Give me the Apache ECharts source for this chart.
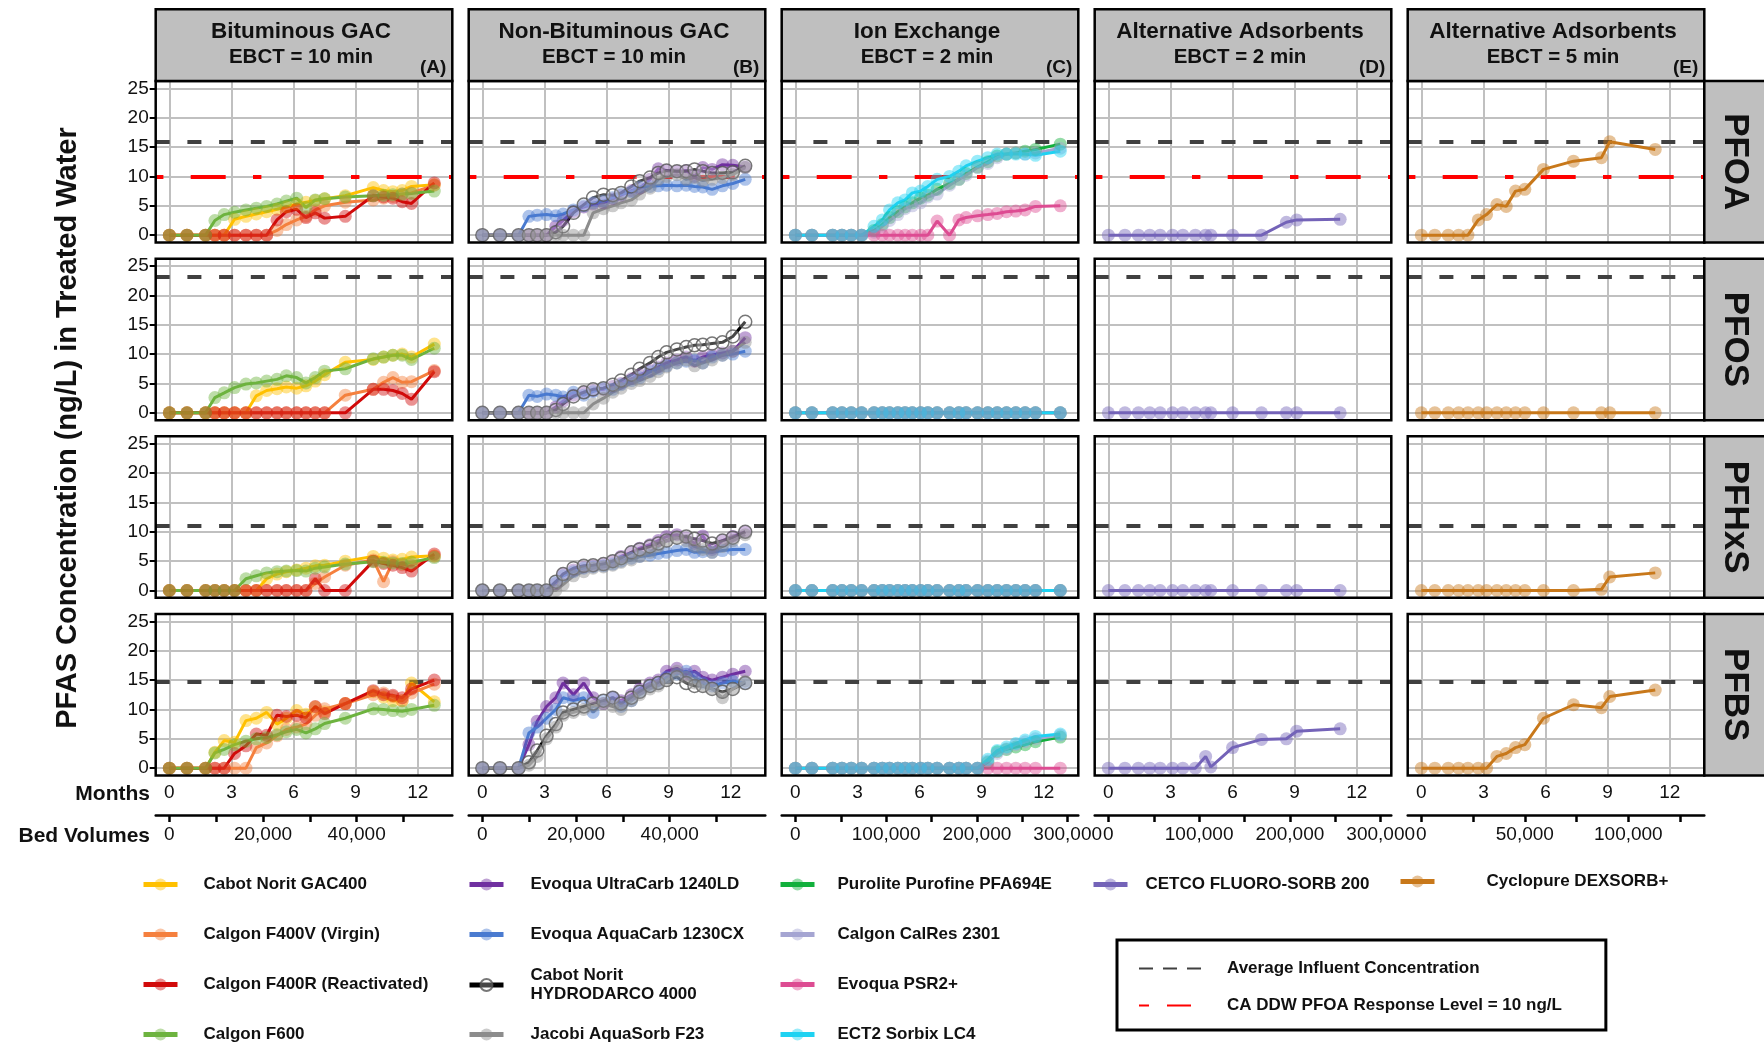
<!DOCTYPE html>
<html><head><meta charset="utf-8">
<script src="https://cdn.jsdelivr.net/npm/echarts@6/dist/echarts.min.js"></script>
<style>html,body{margin:0;padding:0;background:#fff}#c{width:1764px;height:1047px}</style>
</head><body><div id="c"></div>
<script>
// ================= DATA =================
const analytes = ['PFOA', 'PFOS', 'PFHxS', 'PFBS'];
const panelTitles = ['Bituminous GAC', 'Non-Bituminous GAC', 'Ion Exchange', 'Alternative Adsorbents', 'Alternative Adsorbents'];
const panelEBCT = ['EBCT = 10 min', 'EBCT = 10 min', 'EBCT = 2 min', 'EBCT = 2 min', 'EBCT = 5 min'];
const panelTags = ['(A)', '(B)', '(C)', '(D)', '(E)'];
const influentAvg = [15.9, 23.1, 11.1, 14.8];   // ng/L, per analyte row
const responseLevel = 10;                        // CA DDW PFOA response level
const monthTicks = [0, 3, 6, 9, 12];
const concTicks = [0, 5, 10, 15, 20, 25];
const bvPerMonth = [4420, 4420, 22800, 22800, 10000];
const bvTicksA = [0, 10000, 20000, 30000, 40000, 50000];
const bvLabelsA = [0, 20000, 40000];
const bvTicksC = [0, 50000, 100000, 150000, 200000, 250000, 300000];
const bvLabelsC = [0, 100000, 200000, 300000];
const bvTicksE = [0, 25000, 50000, 75000, 100000, 125000];
const bvLabelsE = [0, 50000, 100000];

// sampling times (months) per panel column
const monthsA = [0,0.85,1.75,2.2,2.65,3.15,3.7,4.2,4.7,5.2,5.65,6.15,6.6,7.05,7.5,8.5,9.85,10.35,10.8,11.25,11.7,12.8];
const monthsB = [0,0.85,1.75,2.25,2.65,3.1,3.55,3.9,4.4,4.9,5.35,5.85,6.3,6.7,7.2,7.6,8.1,8.5,8.9,9.4,9.85,10.25,10.65,11.1,11.6,12.1,12.7];
const monthsC = [0,0.8,1.8,2.25,2.7,3.2,3.8,4.2,4.55,4.95,5.3,5.65,6.05,6.4,6.85,7.45,7.9,8.25,8.8,9.3,9.75,10.2,10.65,11.1,11.6,12.8];
const monthsD = [0,0.8,1.45,2.0,2.5,3.1,3.6,4.2,4.7,4.95,6.0,7.4,8.6,9.1,11.2];
const monthsE = [0,0.65,1.3,1.8,2.25,2.75,3.15,3.65,4.1,4.55,5.0,5.9,7.35,8.7,9.1,11.3];

// (A) Bituminous GAC
const gac400PFOA  = [0,0,0,0,0,2.7,3.2,3.6,4.0,4.4,4.8,5.3,5.6,5.9,6.2,6.7,8.1,7.6,7.4,7.6,8.3,8.6];
const gac400PFOS  = [0,0,0,0,0,0,0,2.9,3.8,4.1,4.4,4.2,4.6,5.4,6.5,8.6,9.1,9.5,9.8,10.0,9.5,11.7];
const gac400PFHxS = [0,0,0,0,0,0,0,0,2.0,2.8,3.2,3.5,3.8,4.2,4.3,5.0,5.8,5.5,5.2,5.3,5.7,5.9];
const gac400PFBS  = [0,0,0,2.7,4.7,4.4,8.1,8.5,9.5,7.5,8.5,9.8,9.2,10.4,9.6,11.0,13.0,12.1,11.5,11.5,14.5,11.3];
const f400vPFOA   = [0,0,0,0,0,0,0,0,0,0.8,1.8,2.6,3.2,4.3,5.0,5.6,6.0,6.3,6.6,7.0,7.2,8.5];
const f400vPFOS   = [0,0,0,0,0,0,0,0,0,0,0,0,0,0,0,3.0,4.0,5.2,6.0,5.2,5.3,7.2];
const f400vPFHxS  = [0,0,0,0,0,0,0,0,0,0,0,0,0,1.2,2.3,4.3,5.2,1.5,4.9,4.4,4.3,5.8];
const f400vPFBS   = [0,0,0,0,0,0,0,3.5,4.3,5.5,6.6,7.0,7.5,9.0,10.1,11.0,12.5,12.8,12.2,11.5,12.8,14.3];
const f400rPFOA   = [0,0,0,0,0,0,0,0,0,2.6,4.0,4.4,3.0,3.8,2.9,3.2,6.7,6.5,6.3,5.7,5.4,8.9];
const f400rPFOS   = [0,0,0,0,0,0,0,0,0,0,0,0,0,0,0,0,4.0,4.0,3.8,3.3,2.3,7.0];
const f400rPFHxS  = [0,0,0,0,0,0,0,0,0,0,0,0,0,2.0,0,0,5.0,4.6,4.3,3.9,3.3,6.2];
const f400rPFBS   = [0,0,0,0,0,2.5,3.8,5.8,5.6,9.0,8.8,9.0,8.6,10.5,9.3,11.0,13.2,12.5,12.4,12.0,13.5,15.0];
const f600PFOA    = [0,0,0,2.5,3.5,3.9,4.3,4.6,4.9,5.3,5.8,6.3,4.7,6.0,6.2,6.5,6.7,6.8,6.9,7.0,7.1,7.5];
const f600PFOS    = [0,0,0,2.6,3.4,4.3,4.9,5.1,5.4,5.7,6.3,6.0,5.1,6.0,7.1,7.5,9.2,9.5,9.8,9.8,9.1,11.0];
const f600PFHxS   = [0,0,0,0,0,0,2.0,2.5,3.0,3.2,3.3,3.4,3.3,3.8,4.0,4.5,4.9,4.8,4.7,4.6,4.8,5.6];
const f600PFBS    = [0,0,0,2.6,3.2,4.0,4.6,5.0,5.2,5.7,6.2,6.6,6.0,6.7,7.6,8.5,10.1,10.0,9.8,9.7,10.0,10.7];

// (B) Non-Bituminous GAC
const ultraPFOA   = [0,0,0,0,0,0,1.5,2.5,4.0,4.8,5.3,5.5,6.2,6.8,7.6,8.0,9.5,11.3,11.0,10.9,11.0,10.0,11.5,11.2,12.0,11.9,11.6];
const ultraPFOS   = [0,0,0,0,0,0,1.0,2.0,3.0,3.5,3.8,4.0,4.5,5.0,5.8,6.5,7.2,7.8,8.5,9.0,9.5,8.8,9.5,9.8,10.2,10.5,12.8];
const ultraPFHxS  = [0,0,0,0,0,0,1.2,2.8,3.5,4.0,4.2,4.5,5.0,5.8,6.5,7.2,7.8,8.5,9.2,9.5,9.0,8.0,9.3,7.0,8.5,9.2,10.0];
const ultraPFBS   = [0,0,0,4.0,8.0,10.5,12.0,14.5,12.5,14.5,12.0,11.0,12.0,11.5,12.5,13.5,14.5,15.0,16.5,17.0,16.0,16.5,15.5,15.0,15.5,16.0,16.5];
const aquaPFOA    = [0,0,0,3.2,3.4,3.5,3.3,3.6,4.3,5.0,5.5,5.8,6.4,7.0,7.4,8.2,8.3,8.4,8.5,8.4,8.5,8.3,8.2,7.8,8.4,8.8,9.5];
const aquaPFOS    = [0,0,0,3.0,2.8,3.2,3.0,2.7,3.5,3.0,3.6,4.2,4.0,4.8,5.5,6.0,7.0,7.5,8.0,8.5,8.8,9.0,8.5,9.5,9.8,10.0,10.5];
const aquaPFHxS   = [0,0,0,0,0,0,1.5,2.5,3.2,3.8,4.0,4.2,4.5,5.0,5.5,5.8,6.0,6.3,6.5,6.8,7.0,6.5,6.6,6.5,6.8,7.0,7.0];
const aquaPFBS    = [0,0,0,6.0,7.0,8.5,10.0,12.0,11.5,12.0,9.5,11.5,12.0,10.5,11.5,13.0,14.0,14.5,15.5,16.0,16.5,15.5,14.5,14.0,14.5,14.8,14.5];
const hydroPFOA   = [0,0,0,0,0,0,0.5,1.5,3.8,5.2,6.4,6.9,6.8,7.2,8.3,9.2,9.8,10.6,11.0,10.9,10.9,11.2,10.9,10.6,10.6,10.7,11.8];
const hydroPFOS   = [0,0,0,0,0,0,0.5,1.5,2.8,3.5,4.0,4.2,4.8,5.5,6.5,7.5,8.5,9.5,10.3,10.8,11.2,11.5,11.6,11.8,12.0,13.0,15.5];
const hydroPFHxS  = [0,0,0,0,0,0,1.5,2.8,3.8,4.2,4.3,4.5,5.0,5.5,6.5,7.0,7.5,8.0,8.5,9.0,9.2,8.8,8.5,8.0,8.5,9.0,10.0];
const hydroPFBS   = [0,0,0,1.0,3.0,5.5,7.5,9.5,10.0,10.5,11.0,11.5,12.0,11.0,12.0,13.0,14.0,14.5,15.0,15.5,14.5,14.0,14.0,13.5,13.0,13.5,14.5];
const jacobiPFOA  = [0,0,0,0,0,0,0,0,0,0,3.8,4.5,5.0,5.5,6.0,7.0,8.0,9.5,10.0,10.3,9.5,9.8,9.3,9.5,9.8,10.3,11.5];
const jacobiPFOS  = [0,0,0,0,0,0,0,0,0,0,1.5,2.5,3.5,4.2,5.0,5.5,6.2,7.0,7.8,8.5,9.0,8.0,8.5,9.0,9.8,10.5,12.0];
const jacobiPFHxS = [0,0,0,0,0,0,0,1.0,2.5,3.2,3.8,4.0,4.3,4.8,5.2,5.8,6.5,7.5,8.5,9.0,8.5,7.5,7.0,6.5,7.5,8.5,9.5];
const jacobiPFBS  = [0,0,0,0.5,2.0,5.0,7.0,9.0,9.5,10.0,10.5,11.0,10.5,10.0,11.5,12.5,13.5,14.0,15.0,16.5,15.5,14.5,14.0,13.5,12.0,13.5,14.8];

// (C) Ion Exchange
const puroPFOA    = [0,0,0,0,0,0,0.8,1.8,3.0,4.0,4.8,5.5,6.3,6.8,7.8,8.8,9.5,10.5,11.6,12.5,13.5,13.8,14.0,14.3,14.6,15.5];
const puroPFOS    = [0,0,0,0,0,0,0,0,0,0,0,0,0,0,0,0,0,0,0,0,0,0,0,0,0,0];
const puroPFHxS   = [0,0,0,0,0,0,0,0,0,0,0,0,0,0,0,0,0,0,0,0,0,0,0,0,0,0];
const puroPFBS    = [0,0,0,0,0,0,0,0,0,0,0,0,0,0,0,0,0,0,0,1.0,2.8,3.2,3.6,4.0,4.5,5.3];
const calresPFOA  = [0,0,0,0,0,0,0.5,1.5,2.5,3.5,4.5,5.0,5.5,6.5,7.0,8.5,9.5,10.2,11.5,12.2,13.2,13.8,14.0,13.8,14.0,14.8];
const calresPFOS  = [0,0,0,0,0,0,0,0,0,0,0,0,0,0,0,0,0,0,0,0,0,0,0,0,0,0];
const calresPFHxS = [0,0,0,0,0,0,0,0,0,0,0,0,0,0,0,0,0,0,0,0,0,0,0,0,0,0];
const calresPFBS  = [0,0,0,0,0,0,0,0,0,0,0,0,0,0,0,0,0,0,0,1.2,2.5,3.3,4.0,4.5,5.0,5.6];
const psrPFOA     = [0,0,0,0,0,0,0,0,0,0,0,0,0,0,2.4,0,2.6,3.0,3.3,3.5,3.7,4.0,4.1,4.3,4.9,5.0];
const psrPFOS     = [0,0,0,0,0,0,0,0,0,0,0,0,0,0,0,0,0,0,0,0,0,0,0,0,0,0];
const psrPFHxS    = [0,0,0,0,0,0,0,0,0,0,0,0,0,0,0,0,0,0,0,0,0,0,0,0,0,0];
const psrPFBS     = [0,0,0,0,0,0,0,0,0,0,0,0,0,0,0,0,0,0,0,0,0,0,0,0,0,0];
const sorbixPFOA  = [0,0,0,0,0,0,1.5,2.6,4.3,5.5,6.0,7.2,7.5,8.3,9.5,10.0,10.9,11.8,12.6,13.2,13.8,13.8,13.8,13.8,13.6,14.3];
const sorbixPFOS  = [0,0,0,0,0,0,0,0,0,0,0,0,0,0,0,0,0,0,0,0,0,0,0,0,0,0];
const sorbixPFHxS = [0,0,0,0,0,0,0,0,0,0,0,0,0,0,0,0,0,0,0,0,0,0,0,0,0,0];
const sorbixPFBS  = [0,0,0,0,0,0,0,0,0,0,0,0,0,0,0,0,0,0,0,1.5,3.0,3.6,4.2,4.8,5.4,5.8];

// (D) CETCO, EBCT 2 min
const cetcoPFOA   = [0,0,0,0,0,0,0,0,0,0,0,0,2.2,2.6,2.7];
const cetcoPFOS   = [0,0,0,0,0,0,0,0,0,0,0,0,0,0,0];
const cetcoPFHxS  = [0,0,0,0,0,0,0,0,0,0,0,0,0,0,0];
const cetcoPFBS   = [0,0,0,0,0,0,0,0,2.0,0.2,3.5,4.9,5.0,6.3,6.7];

// (E) Cyclopure, EBCT 5 min
const dexPFOA     = [0,0,0,0,0,2.6,3.5,5.2,4.9,7.5,7.8,11.2,12.6,13.2,15.9,14.6];
const dexPFOS     = [0,0,0,0,0,0,0,0,0,0,0,0,0,0,0,0];
const dexPFHxS    = [0,0,0,0,0,0,0,0,0,0,0,0,0,0.2,2.3,3.0];
const dexPFBS     = [0,0,0,0,0,0,0,2.0,2.5,3.5,4.0,8.5,10.8,10.3,12.2,13.3];

// product list
const productNames = [
  'Cabot Norit GAC400', 'Calgon F400V (Virgin)', 'Calgon F400R (Reactivated)', 'Calgon F600',
  'Evoqua UltraCarb 1240LD', 'Evoqua AquaCarb 1230CX', 'Cabot Norit HYDRODARCO 4000', 'Jacobi AquaSorb F23',
  'Purolite Purofine PFA694E', 'Calgon CalRes 2301', 'Evoqua PSR2+', 'ECT2 Sorbix LC4',
  'CETCO FLUORO-SORB 200', 'Cyclopure DEXSORB+'
];
const productColumn = [0,0,0,0, 1,1,1,1, 2,2,2,2, 3, 4];
const productColors = ['#FFC000','#F5803E','#D10A0A','#6DB33F',
  '#7030A0','#4A7BD0','#000000','#8C8C8C',
  '#12B03C','#A5A5D2','#DD4C92','#1ED2F2',
  '#7463B8','#C8781A'];
const productValues = [
  [gac400PFOA, gac400PFOS, gac400PFHxS, gac400PFBS],
  [f400vPFOA, f400vPFOS, f400vPFHxS, f400vPFBS],
  [f400rPFOA, f400rPFOS, f400rPFHxS, f400rPFBS],
  [f600PFOA, f600PFOS, f600PFHxS, f600PFBS],
  [ultraPFOA, ultraPFOS, ultraPFHxS, ultraPFBS],
  [aquaPFOA, aquaPFOS, aquaPFHxS, aquaPFBS],
  [hydroPFOA, hydroPFOS, hydroPFHxS, hydroPFBS],
  [jacobiPFOA, jacobiPFOS, jacobiPFHxS, jacobiPFBS],
  [puroPFOA, puroPFOS, puroPFHxS, puroPFBS],
  [calresPFOA, calresPFOS, calresPFHxS, calresPFBS],
  [psrPFOA, psrPFOS, psrPFHxS, psrPFBS],
  [sorbixPFOA, sorbixPFOS, sorbixPFHxS, sorbixPFBS],
  [cetcoPFOA, cetcoPFOS, cetcoPFHxS, cetcoPFBS],
  [dexPFOA, dexPFOS, dexPFHxS, dexPFBS]
];
const colMonths = [monthsA, monthsB, monthsC, monthsD, monthsE];
const colBvTicks = [bvTicksA, bvTicksA, bvTicksC, bvTicksC, bvTicksE];
const colBvLabels = [bvLabelsA, bvLabelsA, bvLabelsC, bvLabelsC, bvLabelsE];

// ================= LAYOUT =================
const FONT = '"Liberation Sans", Arial, Helvetica, sans-serif';
const colLeft0 = 155.7, colPitch = 313, panelW = 296.6;
const rowTop0 = 81, rowPitch = 177.67, panelH = 161.5;
const monthMin = -0.66, monthMax = 13.67;
const concMin = -1.25, concMax = 26.25;
const gridColor = '#C0C0C0';
const tickFont = 19;

const grids = [], xAxes = [], yAxes = [], series = [], graphics = [], legends = [];

for (let r = 0; r < 4; r++) {
  for (let c = 0; c < 5; c++) {
    const g = r * 5 + c;
    const left = colLeft0 + c * colPitch, top = rowTop0 + r * rowPitch;
    grids.push({ left: left, top: top, width: panelW, height: panelH, show: true, backgroundColor: '#fff', borderWidth: 0 });
    xAxes.push({
      type: 'value', gridIndex: g, min: monthMin, max: monthMax, position: 'bottom',
      axisLine: { show: false, onZero: false }, axisTick: { show: false, customValues: monthTicks },
      axisLabel: { show: r === 3, customValues: monthTicks, fontSize: tickFont, color: '#111', margin: 8, fontFamily: FONT },
      splitLine: { show: true, lineStyle: { color: gridColor, width: 2 } }
    });
    yAxes.push({
      type: 'value', gridIndex: g, min: concMin, max: concMax,
      axisLine: { show: false, onZero: false },
      axisTick: { show: c === 0, customValues: concTicks, length: 6, lineStyle: { color: '#000', width: 2 } },
      axisLabel: { show: c === 0, customValues: concTicks, fontSize: tickFont, color: '#111', margin: 7, fontFamily: FONT },
      splitLine: { show: true, lineStyle: { color: gridColor, width: 2 } }
    });
    // reference lines
    series.push({
      type: 'line', name: 'Average Influent Concentration', xAxisIndex: g, yAxisIndex: g, data: [],
      symbol: 'none', color: '#404040', lineStyle: { color: '#404040', width: 4, type: [14, 10] }, z: 2,
      markLine: { silent: true, symbol: ['none', 'none'], z: 2, animation: false, label: { show: false },
        lineStyle: { color: '#404040', width: 4, type: [14, 17.7] },
        data: [{ yAxis: influentAvg[r] }] }
    });
    if (r === 0) {
      series.push({
        type: 'line', name: 'CA DDW PFOA Response Level = 10 ng/L', xAxisIndex: g, yAxisIndex: g, data: [],
        symbol: 'none', color: '#FF0000', lineStyle: { color: '#FF0000', width: 4, type: [10, 18, 24, 200] }, z: 2,
        markLine: { silent: true, symbol: ['none', 'none'], z: 2, animation: false, label: { show: false },
          lineStyle: { color: '#FF0000', width: 4, type: [35, 27.3, 8.4, 27.3], dashOffset: 63 },
          data: [{ yAxis: responseLevel }] }
      });
    }
    // panel border on top
    graphics.push({ type: 'rect', z: 100, shape: { x: left, y: top, width: panelW, height: panelH },
      style: { fill: 'none', stroke: '#000', lineWidth: 2.5 } });
  }
}

// bed-volume axes under bottom row
for (let c = 0; c < 5; c++) {
  const fmt = v => Math.round(v).toLocaleString('en-US');
  xAxes.push({
    type: 'value', gridIndex: 15 + c, position: 'bottom', offset: 39.5,
    min: monthMin * bvPerMonth[c], max: monthMax * bvPerMonth[c],
    axisLine: { show: true, onZero: false, lineStyle: { color: '#000', width: 2.5 } },
    axisTick: { show: true, customValues: colBvTicks[c], length: 7, lineStyle: { color: '#000', width: 2.5 } },
    axisLabel: { show: true, customValues: colBvLabels[c], formatter: fmt, fontSize: tickFont, color: '#111', margin: 10, fontFamily: FONT },
    splitLine: { show: false }
  });
}

// product series
productNames.forEach((name, p) => {
  const c = productColumn[p];
  const months = colMonths[c];
  const col = productColors[p];
  const hollow = name === 'Cabot Norit HYDRODARCO 4000';
  productValues[p].forEach((vals, r) => {
    const g = r * 5 + c;
    series.push({
      type: 'line', name: name, xAxisIndex: g, yAxisIndex: g,
      data: months.map((m, i) => [m, vals[i]]),
      symbol: 'circle', symbolSize: 13, color: col, z: 3,
      lineStyle: { width: 3, color: col },
      itemStyle: hollow ? { color: 'rgba(255,255,255,0.35)', borderColor: '#555', borderWidth: 1.5, opacity: 0.8 }
                        : { color: col, opacity: 0.45 },
      emphasis: { disabled: true }
    });
  });
});

// legends (one item each, positioned like the reference)
const legIconLeft = [141, 467, 778, 1091, 1398];
const legTextPad = [21, 22, 18, 13, 47];
const legRowCenter = [885, 935, 985, 1035];
const colCount = [0, 0, 0, 0, 0];
productNames.forEach((name, p) => {
  const c = productColumn[p];
  const k = colCount[c]++;
  const twoLine = name === 'Cabot Norit HYDRODARCO 4000';
  const center = c === 4 ? 882 : legRowCenter[k];
  legends.push({
    data: [name], left: legIconLeft[c], top: center - (twoLine ? 19 : 10), orient: 'vertical', padding: 0,
    itemWidth: 34, itemHeight: 15, selectedMode: false,
    lineStyle: { width: 5 },
    formatter: n => (n === 'Cabot Norit HYDRODARCO 4000' ? 'Cabot Norit\nHYDRODARCO 4000' : n),
    textStyle: { fontSize: 17, fontWeight: 'bold', color: '#111', fontFamily: FONT, lineHeight: 19, padding: [0, 0, 0, legTextPad[c]] }
  });
});
legends.push({
  data: [
    { name: 'Average Influent Concentration', itemStyle: { opacity: 0 } },
    { name: 'CA DDW PFOA Response Level = 10 ng/L', itemStyle: { opacity: 0 } }
  ],
  left: 1117, top: 940, orient: 'vertical', itemWidth: 71, itemHeight: 14, itemGap: 20, selectedMode: false,
  padding: [20, 44, 16, 21], borderColor: '#000', borderWidth: 3,
  textStyle: { fontSize: 17, fontWeight: 'bold', color: '#111', fontFamily: FONT, padding: [0, 0, 0, 12] }
});

// headers
for (let c = 0; c < 5; c++) {
  const left = colLeft0 + c * colPitch;
  graphics.push({ type: 'rect', z: 100, shape: { x: left, y: 9.3, width: panelW, height: rowTop0 - 9.3 },
    style: { fill: '#BFBFBF', stroke: '#000', lineWidth: 2.5 } });
  graphics.push({ type: 'text', z: 101, x: left + panelW / 2 - 3, y: 31.5,
    style: { text: panelTitles[c], font: 'bold 22.5px ' + FONT, fill: '#111', align: 'center', verticalAlign: 'middle' } });
  graphics.push({ type: 'text', z: 101, x: left + panelW / 2 - 3, y: 57.5,
    style: { text: panelEBCT[c], font: 'bold 20.5px ' + FONT, fill: '#111', align: 'center', verticalAlign: 'middle' } });
  graphics.push({ type: 'text', z: 101, x: left + panelW - 6, y: 67.5,
    style: { text: panelTags[c], font: 'bold 19px ' + FONT, fill: '#111', align: 'right', verticalAlign: 'middle' } });
}
// analyte strips
for (let r = 0; r < 4; r++) {
  const top = rowTop0 + r * rowPitch;
  const stripX = colLeft0 + 4 * colPitch + panelW;
  graphics.push({ type: 'rect', z: 100, shape: { x: stripX, y: top, width: 70, height: panelH },
    style: { fill: '#BFBFBF', stroke: '#000', lineWidth: 2.5 } });
  graphics.push({ type: 'text', z: 101, x: 1735, y: top + panelH / 2, rotation: -Math.PI / 2,
    style: { text: analytes[r], font: 'bold 35px ' + FONT, fill: '#111', align: 'center', verticalAlign: 'middle' } });
}
// axis titles
graphics.push({ type: 'text', z: 101, x: 68, y: 428, rotation: Math.PI / 2,
  style: { text: 'PFAS Concentration (ng/L) in Treated Water', font: 'bold 29px ' + FONT, fill: '#111', align: 'center', verticalAlign: 'middle' } });
graphics.push({ type: 'text', z: 101, x: 150, y: 794,
  style: { text: 'Months', font: 'bold 21px ' + FONT, fill: '#111', align: 'right', verticalAlign: 'middle' } });
graphics.push({ type: 'text', z: 101, x: 150, y: 836,
  style: { text: 'Bed Volumes', font: 'bold 21px ' + FONT, fill: '#111', align: 'right', verticalAlign: 'middle' } });

const chart = echarts.init(document.getElementById('c'), null, { renderer: 'canvas' });
chart.setOption({
  animation: false,
  backgroundColor: '#fff',
  textStyle: { fontFamily: FONT },
  grid: grids, xAxis: xAxes, yAxis: yAxes, series: series, legend: legends, graphic: graphics
});
</script>
</body></html>
